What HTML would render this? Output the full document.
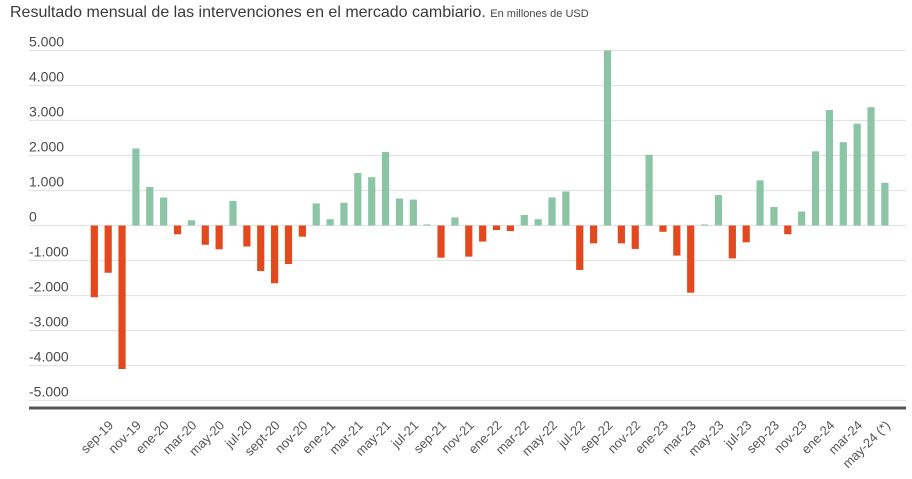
<!DOCTYPE html>
<html><head><meta charset="utf-8"><style>
body{margin:0;background:#fff;}
svg{display:block;font-family:"Liberation Sans",sans-serif;}
</style></head><body>
<svg id="chart" width="912" height="479" viewBox="0 0 912 479">
<text x="10" y="17" font-size="16" fill="#3a3a3a">Resultado  mensual de las intervenciones en el mercado cambiario. <tspan font-size="11" fill="#444">En millones de USD</tspan></text>
<g id="grid"></g><g id="bars"></g><g id="xlabels"></g>
</svg>
<script>
const months = ["ago-19","sep-19","oct-19","nov-19","dic-19","ene-20","feb-20","mar-20","abr-20","may-20","jun-20","jul-20","ago-20","sept-20","oct-20","nov-20","dic-20","ene-21","feb-21","mar-21","abr-21","may-21","jun-21","jul-21","ago-21","sep-21","oct-21","nov-21","dic-21","ene-22","feb-22","mar-22","abr-22","may-22","jun-22","jul-22","ago-22","sep-22","oct-22","nov-22","dic-22","ene-23","feb-23","mar-23","abr-23","may-23","jun-23","jul-23","ago-23","sep-23","oct-23","nov-23","dic-23","ene-24","feb-24","mar-24","abr-24","may-24 (*)"];
const values = [-2050,-1350,-4100,2200,1100,800,-250,150,-550,-680,700,-600,-1300,-1650,-1100,-320,630,180,650,1500,1380,2100,770,740,30,-920,230,-890,-460,-130,-160,300,180,800,970,-1270,-510,5000,-510,-670,2020,-180,-860,-1920,30,870,-940,-480,1290,530,-250,400,2120,3300,2380,2910,3380,1220];
const yTicks = [5000,4000,3000,2000,1000,0,-1000,-2000,-3000,-4000,-5000];
const yTickLabels = ["5.000","4.000","3.000","2.000","1.000","0","-1.000","-2.000","-3.000","-4.000","-5.000"];
const NS="http://www.w3.org/2000/svg";
const y = v => 225.5 - v*0.035;
const x = i => 94.3 + i*13.87;
const grid=document.getElementById('grid'), bars=document.getElementById('bars'), xl=document.getElementById('xlabels');
function mk(tag,attrs,parent){const e=document.createElementNS(NS,tag);for(const k in attrs)e.setAttribute(k,attrs[k]);parent.appendChild(e);return e;}
yTicks.forEach((t,i)=>{
  const l=mk('line',{x1:29,x2:906,y1:y(t),y2:y(t),stroke:'#e3e3e3','stroke-width':1.2},grid);
  
  
  const tx=mk('text',{x:29,y:y(t)-4,'font-size':14,fill:'#4a4a4a'},grid);
  
  
  tx.textContent=yTickLabels[i];
});
const ax=mk('line',{x1:29,x2:906,y1:408,y2:408,stroke:'#555','stroke-width':3},grid);


values.forEach((v,i)=>{
  const top=Math.min(y(v),y(0)), h=Math.max(Math.abs(y(v)-y(0)),0.6);
  const r=mk('rect',{x:x(i)-3.6,y:top,width:7.2,height:h,fill:v>=0?'#8cc4a6':'#e2491e'},bars);
  
  
});
months.forEach((m,i)=>{
  if(i%2!==1)return;
  const tx=mk('text',{x:0,y:0,'font-size':13,fill:'#555','text-anchor':'end',transform:`translate(${x(i)+6},${426}) rotate(-45)`},xl);
  
  
  tx.textContent=m;
});
</script>
</body></html>
